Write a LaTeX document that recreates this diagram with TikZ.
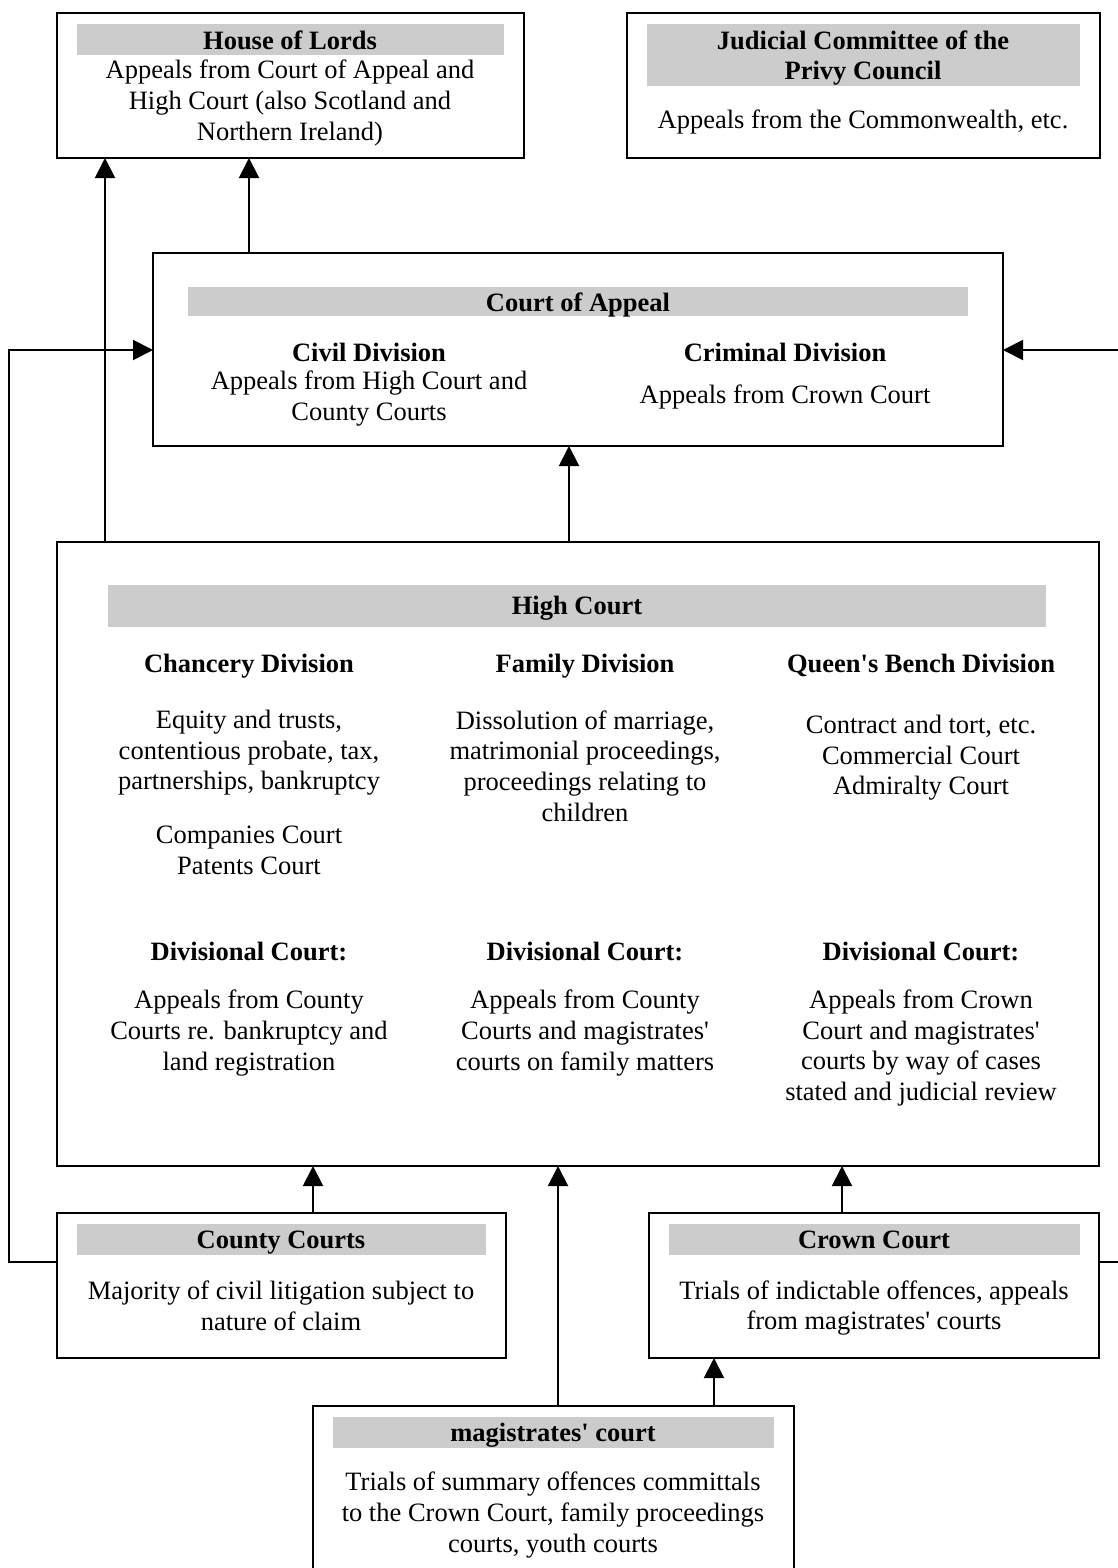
\documentclass[tikz,border=0pt]{standalone}
\usepackage{fontspec}
\setmainfont{Liberation Serif}[Ligatures=TeXOff]
\usetikzlibrary{arrows.meta,calc}
\begin{document}
\begin{tikzpicture}[x=1pt,y=-1pt,
  box/.style={draw=black,line width=2pt,fill=white,inner sep=0pt,outer sep=0pt,anchor=north west},
  bar/.style={fill=black!20,draw=none,inner sep=0pt,outer sep=0pt,anchor=north west},
  ttl/.style={font=\fontsize{26.5}{30.5}\selectfont\bfseries,align=center,inner sep=0pt},
  txt/.style={font=\fontsize{26.5}{30.6}\selectfont,align=center,inner sep=0pt},
  arr/.style={line width=2pt,-{Triangle[length=20pt,width=20pt]}}]
\useasboundingbox (0,0) rectangle (1118,1568);
% boxes
\node[box,minimum width=467pt,minimum height=145pt] (hol) at (57,13) {};
\node[box,minimum width=473pt,minimum height=145pt] (jc) at (627,13) {};
\node[box,minimum width=850pt,minimum height=193pt] (coa) at (153,253) {};
\node[box,minimum width=1042pt,minimum height=624pt] (hc) at (57,542) {};
\node[box,minimum width=449pt,minimum height=145pt] (cc) at (57,1213) {};
\node[box,minimum width=450pt,minimum height=145pt] (cr) at (649,1213) {};
\node[box,minimum width=481pt,minimum height=200pt] (mag) at (313,1406) {};
% grey title bars
\node[bar,minimum width=427pt,minimum height=31pt] (holbar) at (77,24) {};
\node[bar,minimum width=433pt,minimum height=62pt] (jcbar) at (647,24) {};
\node[bar,minimum width=780pt,minimum height=29pt] (coabar) at (188,287) {};
\node[bar,minimum width=938pt,minimum height=42pt] (hcbar) at (108,585) {};
\node[bar,minimum width=409pt,minimum height=31pt] (ccbar) at (77,1224) {};
\node[bar,minimum width=411pt,minimum height=31pt] (crbar) at (669,1224) {};
\node[bar,minimum width=441pt,minimum height=31pt] (magbar) at (333,1417) {};
% texts
\node[ttl] (holT) at (290,40) {House of Lords};
\node[txt] (holB) at (290,103) {Appeals from Court of Appeal and\\High Court (also Scotland and\\Northern Ireland)};
\node[ttl] (jcT) at (863,58) {Judicial Committee of the\\Privy Council};
\node[txt] (jcB) at (863,122) {Appeals from the Commonwealth, etc.};
\node[ttl] (coaT) at (578,305) {Court of Appeal};
\node[ttl] (civT) at (369,352) {Civil Division};
\node[txt] (civB) at (369,398.5) {Appeals from High Court and\\County Courts};
\node[ttl] (crimT) at (785,352) {Criminal Division};
\node[txt] (crimB) at (785,397) {Appeals from Crown Court};
\node[ttl] (hcT) at (577,608) {High Court};
\node[ttl] (chT) at (249,666) {Chancery Division};
\node[ttl] (faT) at (585,666) {Family Division};
\node[ttl] (qbT) at (921,665) {Queen's Bench Division};
\node[txt] (chB) at (249,753) {Equity and trusts,\\contentious probate, tax,\\partnerships, bankruptcy};
\node[txt] (chC) at (249,850.5) {Companies Court\\Patents Court};
\node[txt] (faB) at (585,766) {Dissolution of marriage,\\matrimonial proceedings,\\proceedings relating to\\children};
\node[txt] (qbB) at (921,758) {Contract and tort, etc.\\Commercial Court\\Admiralty Court};
\node[ttl] (chD) at (249,951) {Divisional Court:};
\node[ttl] (faD) at (585,951) {Divisional Court:};
\node[ttl] (qbD) at (921,951) {Divisional Court:};
\node[txt] (chE) at (249,1033) {Appeals from County\\Courts re. bankruptcy and\\land registration};
\node[txt] (faE) at (585,1033) {Appeals from County\\Courts and magistrates'\\courts on family matters};
\node[txt] (qbE) at (921,1048) {Appeals from Crown\\Court and magistrates'\\courts by way of cases\\stated and judicial review};
\node[ttl] (ccT) at (281,1243) {County Courts};
\node[txt] (ccB) at (281,1306) {Majority of civil litigation subject to\\nature of claim};
\node[ttl] (crT) at (874,1240) {Crown Court};
\node[txt] (crB) at (874,1308) {Trials of indictable offences, appeals\\from magistrates' courts};
\node[ttl] (magT) at (553,1435) {magistrates' court};
\node[txt] (magB) at (553,1515) {Trials of summary offences committals\\to the Crown Court, family proceedings\\courts, youth courts};
% connector guide coordinates
\coordinate (xa) at (105,0);
\coordinate (xb) at (249,0);
\coordinate (xc) at (569,0);
\coordinate (xd) at (313,0);
\coordinate (xe) at (558,0);
\coordinate (xf) at (842,0);
\coordinate (xg) at (714,0);
\coordinate (xl) at (9,0);
\coordinate (xr) at (1126,0);
\coordinate (ylow) at (0,1262);
\coordinate (yapp) at (0,350);
% connectors
\draw[arr] (xa |- hc.north) -- (xa |- hol.south);
\draw[arr] (xb |- coa.north) -- (xb |- hol.south);
\draw[arr] (xc |- hc.north) -- (xc |- coa.south);
\draw[arr] (xd |- cc.north) -- (xd |- hc.south);
\draw[arr] (xe |- mag.north) -- (xe |- hc.south);
\draw[arr] (xf |- cr.north) -- (xf |- hc.south);
\draw[arr] (xg |- mag.north) -- (xg |- cr.south);
\draw[arr] (cc.west |- ylow) -- (xl |- ylow) -- (xl |- yapp) -- (coa.west |- yapp);
\draw[arr] (cr.east |- ylow) -- (xr |- ylow) -- (xr |- yapp) -- (coa.east |- yapp);
\end{tikzpicture}
\end{document}
